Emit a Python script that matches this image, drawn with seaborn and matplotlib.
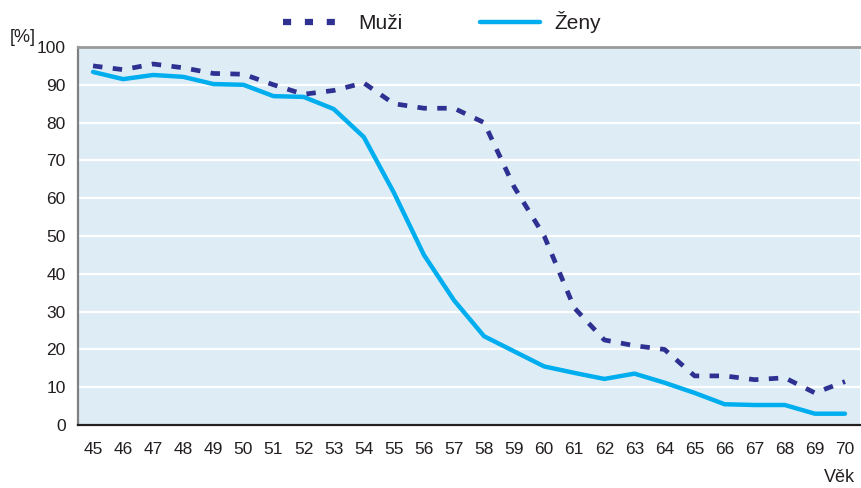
import matplotlib
matplotlib.use("Agg")
import matplotlib.pyplot as plt
from matplotlib.lines import Line2D
import seaborn as sns
import pandas as pd
import numpy as np

ages = list(range(45, 71))
muzi = [95, 94, 95.5, 94.5, 93, 92.8, 90, 87.5, 88.5, 90.5, 85, 83.8, 83.8, 80,
        63, 50, 31, 22.5, 21, 20, 13, 13, 12, 12.5, 8.5, 11.5]
zeny = [93.4, 91.5, 92.6, 92.1, 90.2, 90.0, 87.0, 86.8, 83.6, 76.2, 61.5, 45, 33,
        23.5, 19.5, 15.5, 13.8, 12.2, 13.6, 11.2, 8.5, 5.5, 5.3, 5.3, 3.0, 3.0]
series_names = ["Muži", "Ženy"]
y_ticks = list(range(0, 101, 10))

sns.set_theme(style="white")
plt.rcParams['font.family'] = ['Liberation Sans', 'DejaVu Sans']

df = pd.DataFrame({"Věk": ages * 2,
                   "Hodnota": muzi + zeny,
                   "Pohlaví": [series_names[0]] * len(ages) + [series_names[1]] * len(ages)})

fig = plt.figure(figsize=(8.62, 4.88), dpi=100)
ax = fig.add_axes([0.0905, 0.129, 0.9072, 0.7747])
ax.set_facecolor("#DEEDF5")

navy = "#2E3192"
cyan = "#00AEEF"
txt = "#231F20"

sns.lineplot(data=df[df["Pohlaví"] == "Ženy"], x="Věk", y="Hodnota", ax=ax,
             color=cyan, linewidth=3.2, legend=False, zorder=3)
sns.lineplot(data=df[df["Pohlaví"] == "Muži"], x="Věk", y="Hodnota", ax=ax,
             color=navy, linewidth=3.4, legend=False, zorder=4,
             dashes=False)
ax.lines[-1].set_dashes([2.0, 2.2])
ax.lines[-1].set_dash_capstyle("butt")

ax.set_xlim(44.5, 70.5)
ax.set_ylim(0, 100)
ax.set_yticks(y_ticks)
ax.set_xticks(ages)
ax.set_xticks(np.arange(44.5, 70.6, 1.0), minor=True)
ax.grid(axis="y", color="white", linewidth=1.6, zorder=1)
ax.set_axisbelow(True)

ax.tick_params(axis="x", which="major", length=0, pad=12, labelsize=12.5, colors=txt)
ax.tick_params(axis="x", which="minor", length=4, direction="in", color=txt, width=1)
ax.tick_params(axis="y", which="major", length=4, direction="out", labelsize=12.5,
               labelcolor=txt, color="#808080", width=1, pad=5)

ax.spines["left"].set_color("#808080")
ax.spines["left"].set_linewidth(1.6)
ax.spines["bottom"].set_color(txt)
ax.spines["bottom"].set_linewidth(1.6)
ax.spines["top"].set_color("#9A9A9A")
ax.spines["top"].set_linewidth(2)
ax.spines["right"].set_visible(False)

ax.set_xlabel("")
ax.set_ylabel("")
fig.text(0.011, 0.905, "[%]", fontsize=13, color=txt, ha="left", va="bottom")
fig.text(0.992, 0.004, "Věk", fontsize=13, color=txt, ha="right", va="bottom")

handles = [Line2D([0], [0], color=navy, linewidth=4.5, dashes=[1.3, 2.2], dash_capstyle="butt"),
           Line2D([0], [0], color=cyan, linewidth=3.2)]
fig.legend(handles, series_names, loc="center", bbox_to_anchor=(0.513, 0.955), ncol=2,
           frameon=False, fontsize=15, handlelength=2.9, columnspacing=3.7,
           handletextpad=0.7, labelcolor=txt)

fig.savefig("out.png", dpi=100)
